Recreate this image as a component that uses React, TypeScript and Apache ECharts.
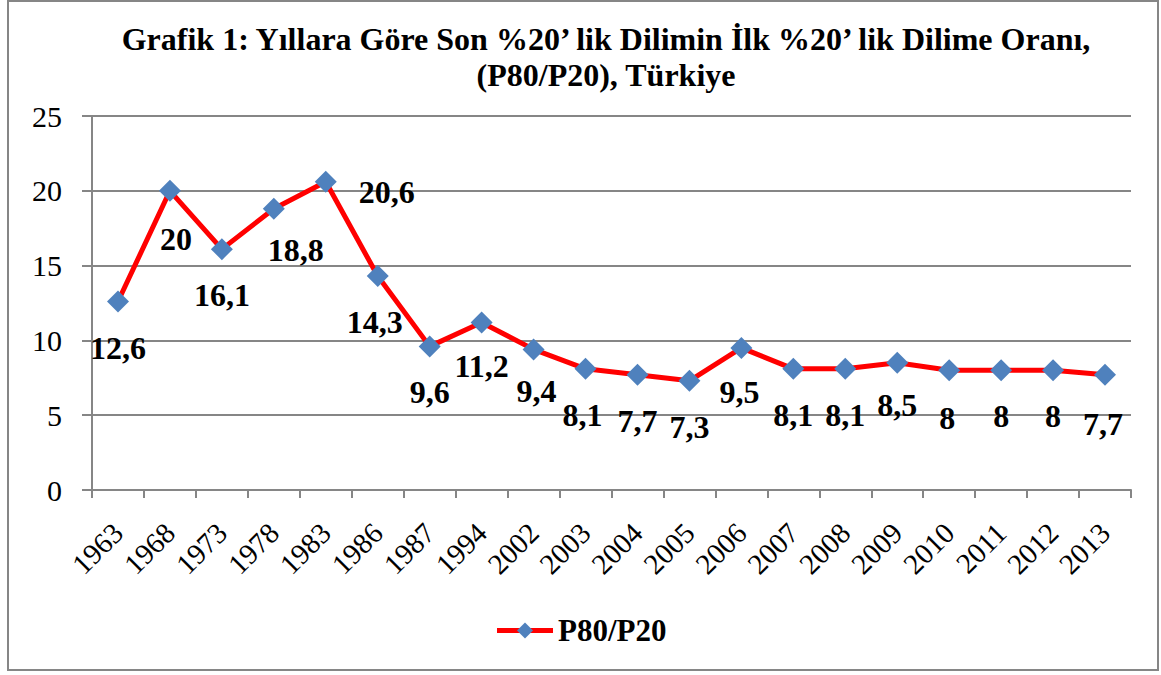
import React, { useEffect, useRef } from "react";
import * as echarts from "echarts";

const years = ["1963","1968","1973","1978","1983","1986","1987","1994","2002","2003","2004","2005","2006","2007","2008","2009","2010","2011","2012","2013"];
const ratio = [12.6,20,16.1,18.8,20.6,14.3,9.6,11.2,9.4,8.1,7.7,7.3,9.5,8.1,8.1,8.5,8,8,8,7.7];
const yTicks = [0, 5, 10, 15, 20, 25];
const titleText = "Grafik 1: Yıllara Göre Son %20’ lik Dilimin İlk %20’ lik Dilime Oranı,\n(P80/P20), Türkiye";
const seriesName = "P80/P20";

const FONT = "'Liberation Serif', 'Times New Roman', serif";

// label placement tweaks by index (styling only)
const labelTweaks: Record<number, any> = {
  1: { offset: [6, 2] },
  3: { offset: [22, -5] },
  4: { position: "right", distance: 22, offset: [0, 10] },
  5: { offset: [-3, 0] },
  7: { offset: [0, -2] },
  8: { offset: [3, -4] },
  9: { offset: [-3, 0] },
  12: { offset: [-2, -2] },
  15: { offset: [0, -4] },
  16: { offset: [-2, 2] },
  19: { offset: [-2, 3] },
};

export default function App() {
  const ref = useRef<HTMLDivElement>(null);
  useEffect(() => {
    if (!ref.current) return;
    const chart = echarts.init(ref.current, null, { renderer: "svg" });
    const data = ratio.map((v, i) => ({
      value: v,
      label: labelTweaks[i] ? { ...labelTweaks[i] } : undefined,
    }));
    chart.setOption({
      animation: false,
      backgroundColor: "#ffffff",
      textStyle: { fontFamily: FONT },
      title: {
        text: titleText,
        left: 601,
        textAlign: "center",
        top: 16,
        textStyle: {
          fontFamily: FONT,
          fontSize: 32,
          fontWeight: "bold",
          color: "#000",
          lineHeight: 36,
        },
      },
      grid: { left: 92, right: 30, top: 116, bottom: 185, containLabel: false },
      legend: {
        bottom: 24,
        left: "center",
        itemWidth: 56,
        itemHeight: 20,
        itemGap: 4,
        lineStyle: { width: 5 },
        textStyle: { fontFamily: FONT, fontSize: 31, fontWeight: "bold", color: "#000" },
        data: [seriesName],
      },
      xAxis: {
        type: "category",
        data: years,
        boundaryGap: true,
        axisLine: { lineStyle: { color: "#868686", width: 2 } },
        axisTick: { show: true, length: 8, lineStyle: { color: "#868686", width: 2 } },
        axisLabel: {
          rotate: 45,
          margin: 38,
          fontFamily: FONT,
          fontSize: 29,
          color: "#000",
          interval: 0,
        },
      },
      yAxis: {
        type: "value",
        min: yTicks[0],
        max: yTicks[yTicks.length - 1],
        interval: 5,
        axisLine: { show: true, lineStyle: { color: "#868686", width: 2 } },
        axisTick: { show: true, length: 10, lineStyle: { color: "#868686", width: 2 } },
        splitLine: { lineStyle: { color: "#868686", width: 2 } },
        axisLabel: { margin: 30, fontFamily: FONT, fontSize: 30, color: "#000" },
      },
      series: [
        {
          name: seriesName,
          type: "line",
          data,
          symbol: "diamond",
          symbolSize: 22,
          itemStyle: { color: "#4f81bd" },
          lineStyle: { color: "#ff0000", width: 5 },
          label: {
            show: true,
            position: "bottom",
            distance: 19,
            fontFamily: FONT,
            fontSize: 32,
            fontWeight: "bold",
            color: "#000",
            formatter: (p: any) => String(p.value).replace(".", ","),
          },
        },
      ],
      graphic: [
        {
          type: "rect",
          shape: { x: 8, y: 1, width: 1150, height: 669 },
          style: { fill: "none", stroke: "#868686", lineWidth: 2 },
          silent: true,
        },
      ],
    });
    return () => chart.dispose();
  }, []);
  return (
    <div
      ref={ref}
      style={{ position: "absolute", left: 0, top: 0, width: 1161, height: 675 }}
    />
  );
}
